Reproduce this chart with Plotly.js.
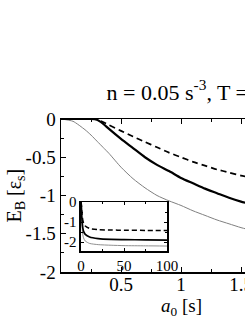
<!DOCTYPE html>
<html>
<head>
<meta charset="utf-8">
<script src="https://cdn.plot.ly/plotly-3.0.1.min.js"></script>
<style>
html,body{margin:0;padding:0;overflow:hidden;background:#fff;}
#plot{width:320px;height:317px;}
</style>
</head>
<body>
<div id="plot"></div>
<script>
// Main panel data (a0 in s, E_B in units of eps_s)
const a0 = [0, 0.1, 0.2, 0.25, 0.3, 0.35, 0.4, 0.5, 0.6, 0.7, 0.8, 0.9, 1.0, 1.1, 1.2, 1.3, 1.4, 1.5, 1.6, 1.8, 2.0];
const eThin   = [0, -0.03, -0.14, -0.21, -0.29, -0.37, -0.45, -0.63, -0.78, -0.9, -1.0, -1.07, -1.13, -1.2, -1.26, -1.32, -1.37, -1.42, -1.46, -1.54, -1.6];
const eSolid  = [0, 0, 0, 0, -0.01, -0.06, -0.13, -0.26, -0.38, -0.5, -0.6, -0.68, -0.77, -0.84, -0.91, -0.97, -1.03, -1.08, -1.12, -1.2, -1.27];
const eDashed = [0, 0, 0, 0, -0.005, -0.04, -0.08, -0.155, -0.23, -0.3, -0.37, -0.44, -0.5, -0.56, -0.61, -0.66, -0.7, -0.74, -0.77, -0.83, -0.88];

// Inset data
const a0Inset = [0, 0.5, 1, 2, 3, 5, 10, 20, 35, 50, 75, 100];
const eThinInset   = [0, -0.63, -1.13, -1.6, -1.8, -1.95, -2.07, -2.13, -2.16, -2.18, -2.19, -2.2];
const eSolidInset  = [0, -0.26, -0.77, -1.27, -1.47, -1.62, -1.75, -1.83, -1.87, -1.88, -1.89, -1.9];
const eDashedInset = [0, -0.155, -0.5, -0.88, -1.05, -1.2, -1.32, -1.38, -1.4, -1.41, -1.42, -1.43];

// Tick labels
const xTickVals = [0.5, 1, 1.5, 2];
const xTickText = ["0.5", "1", "1.5", "2"];
const yTickVals = [0, -0.5, -1, -1.5, -2];
const yTickText = ["0", "-0.5", "-1", "-1.5", "-2"];
const xInsetTickVals = [0, 50, 100];
const xInsetTickText = ["0", "50", "100"];
const yInsetTickVals = [0, -1, -2];
const yInsetTickText = ["0", "-1", "-2"];

const FONT = "Liberation Serif, Times New Roman, serif";

const traces = [
  {x: a0, y: eThin, type: 'scatter', mode: 'lines', line: {color: '#808080', width: 1, shape: 'spline', smoothing: 0.6}, xaxis: 'x', yaxis: 'y'},
  {x: a0, y: eDashed, type: 'scatter', mode: 'lines', line: {color: '#000', width: 1.7, dash: '6px,4px', shape: 'spline', smoothing: 0.6}, xaxis: 'x', yaxis: 'y'},
  {x: a0, y: eSolid, type: 'scatter', mode: 'lines', line: {color: '#000', width: 2.2, shape: 'spline', smoothing: 0.6}, xaxis: 'x', yaxis: 'y'},
  {x: a0Inset, y: eThinInset, type: 'scatter', mode: 'lines', line: {color: '#909090', width: 1, shape: 'spline', smoothing: 0.6}, xaxis: 'x2', yaxis: 'y2'},
  {x: a0Inset, y: eDashedInset, type: 'scatter', mode: 'lines', line: {color: '#000', width: 1.5, dash: '5px,3px', shape: 'spline', smoothing: 0.6}, xaxis: 'x2', yaxis: 'y2'},
  {x: a0Inset, y: eSolidInset, type: 'scatter', mode: 'lines', line: {color: '#000', width: 1.7, shape: 'spline', smoothing: 0.6}, xaxis: 'x2', yaxis: 'y2'}
];

const axisCommon = {
  showgrid: false, zeroline: false, showline: true, linecolor: '#000', linewidth: 1.5,
  mirror: 'allticks', ticks: 'inside', ticklen: 5, tickwidth: 1, tickcolor: '#000',
  tickfont: {family: FONT, size: 19, color: '#000'}
};

const layout = {
  width: 320, height: 317,
  margin: {l: 61, r: 19, t: 119, b: 45},
  paper_bgcolor: '#fff', plot_bgcolor: '#fff',
  showlegend: false,
  font: {family: FONT, color: '#000'},
  title: {
    text: 'n = 0.05 s<sup>-3</sup>, T = 1 s',
    font: {family: FONT, size: 22, color: '#000'},
    xref: 'paper', x: 0.19, xanchor: 'left',
    yref: 'container', y: 0.71, yanchor: 'middle'
  },
  xaxis: Object.assign({}, axisCommon, {
    domain: [0, 1], range: [0, 2], tickmode: 'array', tickvals: xTickVals, ticktext: xTickText,
    ticklabelstandoff: -5,
    minor: {tickmode: 'linear', tick0: 0, dtick: 0.25, ticklen: 3, ticks: 'inside', tickcolor: '#000'},
    anchor: 'y'
  }),
  yaxis: Object.assign({}, axisCommon, {
    domain: [0, 1], range: [-2, 0], tickmode: 'array', tickvals: yTickVals, ticktext: yTickText,
    minor: {tickmode: 'linear', tick0: 0, dtick: 0.25, ticklen: 3, ticks: 'inside', tickcolor: '#000'},
    anchor: 'x'
  }),
  xaxis2: Object.assign({}, axisCommon, {
    domain: [0.0833, 0.4417], range: [0, 100], tickmode: 'array', tickvals: xInsetTickVals, ticktext: xInsetTickText,
    ticklen: 3, tickfont: {family: FONT, size: 15, color: '#000'},
    minor: {tickmode: 'linear', tick0: 0, dtick: 25, ticklen: 2, ticks: 'inside', tickcolor: '#000'},
    anchor: 'y2'
  }),
  yaxis2: Object.assign({}, axisCommon, {
    domain: [0.137, 0.4575], range: [-2.45, 0], tickmode: 'array', tickvals: yInsetTickVals, ticktext: yInsetTickText,
    ticklen: 3, tickfont: {family: FONT, size: 15, color: '#000'},
    minor: {tickmode: 'linear', tick0: 0, dtick: 0.5, ticklen: 2, ticks: 'inside', tickcolor: '#000'},
    anchor: 'x2'
  }),
  annotations: [
    {text: '<i>a</i><sub>0</sub> [s]', xref: 'paper', yref: 'paper', x: 0.5, y: 0,
     xanchor: 'center', yanchor: 'middle', yshift: -35, showarrow: false,
     font: {family: FONT, size: 19, color: '#000'}},
    {text: 'E<sub>B</sub> [ε<sub>s</sub>]', xref: 'paper', yref: 'paper', x: 0, y: 0.5,
     xanchor: 'center', yanchor: 'middle', xshift: -46, textangle: -90, showarrow: false,
     font: {family: FONT, size: 20, color: '#000'}}
  ]
};

Plotly.newPlot('plot', traces, layout, {displayModeBar: false, staticPlot: true});
</script>
</body>
</html>
